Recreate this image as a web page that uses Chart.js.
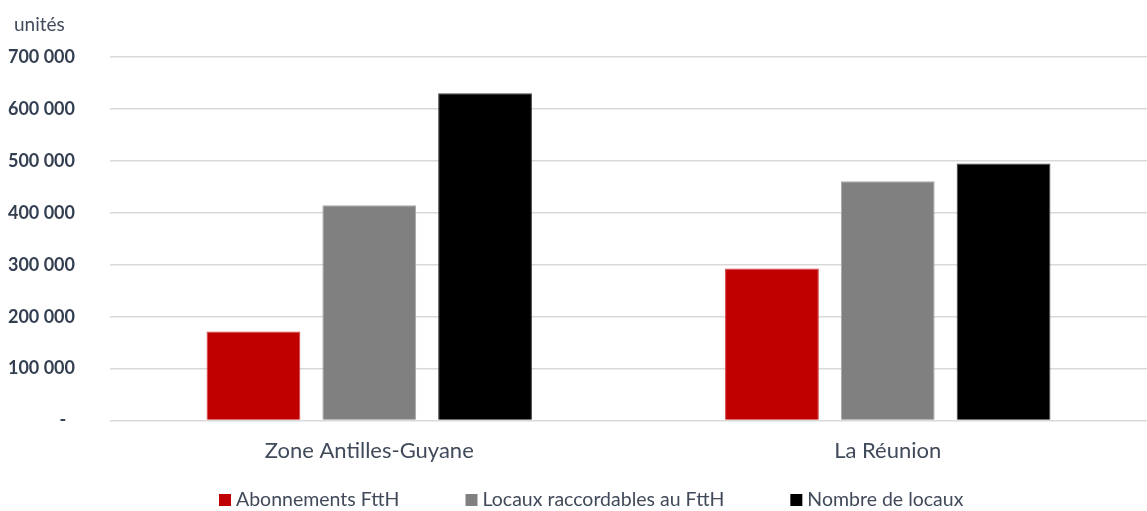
<!DOCTYPE html>
<html>
<head>
<meta charset="utf-8">
<script src="https://cdn.jsdelivr.net/npm/chart.js@4/dist/chart.umd.min.js"></script>
<style>
html,body{margin:0;padding:0;background:#fff;}
#wrap{width:1147px;height:511px;position:relative;}
</style>
</head>
<body>
<div id="wrap"><canvas id="c"></canvas></div>
<script>
const categories = ["Zone Antilles-Guyane", "La Réunion"];
const seriesNames = ["Abonnements FttH", "Locaux raccordables au FttH", "Nombre de locaux"];
const abonnements = [171500, 293000];
const locauxRaccordables = [414500, 461000];
const nombreLocaux = [630000, 495000];
const yTicks = [0, 100000, 200000, 300000, 400000, 500000, 600000, 700000];
const yUnit = "unités";

const tickColor = "#333F50";
const labelColor = "#404A5A";

function fmt(v){
  if (v === 0) return "-  ";
  return String(v).replace(/\B(?=(\d{3})+(?!\d))/g, " ");
}

const unitPlugin = {
  id: "unitLabel",
  afterDraw(chart){
    const ctx = chart.ctx;
    ctx.save();
    ctx.font = "19px Lato";
    ctx.fillStyle = labelColor;
    ctx.textAlign = "left";
    ctx.textBaseline = "middle";
    ctx.fillText(yUnit, 14, 25);
    ctx.restore();
  }
};

const legendPlugin = {
  id: "customLegend",
  afterDraw(chart){
    const ctx = chart.ctx;
    ctx.save();
    ctx.font = "19.5px Lato";
    ctx.textBaseline = "middle";
    ctx.textAlign = "left";
    let x = 219;
    const y = 500;
    chart.data.datasets.forEach((ds) => {
      ctx.fillStyle = ds.backgroundColor;
      ctx.fillRect(x, y - 6, 12, 12);
      x += 17;
      ctx.fillStyle = labelColor;
      ctx.fillText(ds.label, x, y);
      x += ctx.measureText(ds.label).width + 66;
    });
    ctx.restore();
  }
};

new Chart(document.getElementById("c"), {
  type: "bar",
  data: {
    labels: categories,
    datasets: [
      {label: seriesNames[0], data: abonnements, backgroundColor: "#C00000", borderColor: "#D84040", borderWidth: 1},
      {label: seriesNames[1], data: locauxRaccordables, backgroundColor: "#808080", borderColor: "#A6A6A6", borderWidth: 1},
      {label: seriesNames[2], data: nombreLocaux, backgroundColor: "#000000", borderColor: "#404040", borderWidth: 1}
    ]
  },
  options: {
    responsive: true,
    maintainAspectRatio: false,
    animation: false,
    categoryPercentage: 0.67,
    barPercentage: 0.81,
    layout: {padding: {top: 57, left: 8, right: -10, bottom: 38}},
    plugins: {
      tooltip: {enabled: false},
      legend: {display: false}
    },
    scales: {
      x: {
        grid: {display: false},
        border: {display: false},
        ticks: {color: labelColor, font: {family: "Lato", size: 22}, padding: 9},
        afterFit(axis){ axis.paddingLeft = 0; axis.paddingRight = 0; }
      },
      y: {
        min: 0, max: 700000,
        afterBuildTicks(axis){ axis.ticks = yTicks.map(v => ({value: v})); },
        afterFit(axis){ axis.width = 102; },
        grid: {color: "#D9D9D9", lineWidth: 1.5, drawTicks: false},
        border: {display: false},
        ticks: {
          color: tickColor,
          font: {family: "Lato", size: 18, weight: "bold"},
          padding: 35,
          callback: v => fmt(v)
        }
      }
    }
  },
  plugins: [unitPlugin, legendPlugin]
});
</script>
</body>
</html>
